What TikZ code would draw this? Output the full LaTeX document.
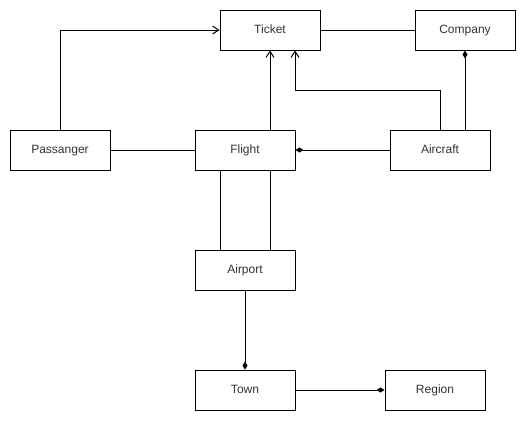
\documentclass[tikz,border=0pt]{standalone}
\usepackage{fontspec}
\setmainfont{Liberation Sans}
\usetikzlibrary{arrows.meta}
\begin{document}
\begin{tikzpicture}[x=1pt,y=-1pt,
  cls/.style={draw,line width=1pt,minimum width=100pt,minimum height=40pt,inner sep=0pt,text height=8.6pt,text depth=2.6pt,font=\fontsize{12}{14}\selectfont,text=black!80},
  conn/.style={line width=1pt},
  opena/.style={-{Straight Barb[length=6pt,width=8pt,line width=1pt]}},
  dia/.style={-{Diamond[length=8pt,width=5pt]}}]
\useasboundingbox (0,0) rectangle (526,421);
\fill[white] (0,0) rectangle (526,421);
\node[cls] (ticket) at (270,30) {Ticket};
\node[cls] (company) at (465,30) {Company};
\node[cls] (pass) at (60,150) {Passanger};
\node[cls] (flight) at (245,150) {Flight};
\node[cls] (aircraft) at (440,150) {Aircraft};
\node[cls] (airport) at (245,270) {Airport};
\node[cls] (town) at (245,390) {Town};
\node[cls] (region) at (435,390) {Region};
\draw[conn,opena] (pass.north) |- (ticket.west);
\draw[conn] (ticket.east) -- (company.west);
\draw[conn,opena] ([xshift=25pt]flight.north) -- ([xshift=25pt]flight.north |- ticket.south);
\coordinate (bend) at (440,90);
\draw[conn,opena] (aircraft.north) -- (bend) -| ([xshift=25pt]ticket.south);
\draw[conn,dia] ([xshift=25pt]aircraft.north) -- ([xshift=25pt]aircraft.north |- company.south);
\draw[conn] (pass.east) -- (flight.west);
\draw[conn,dia] (aircraft.west) -- (flight.east);
\draw[conn] ([xshift=-25pt]flight.south) -- ([xshift=-25pt]airport.north);
\draw[conn] ([xshift=25pt]flight.south) -- ([xshift=25pt]airport.north);
\draw[conn,dia] (airport.south) -- (town.north);
\draw[conn,dia] (town.east) -- (region.west);
\end{tikzpicture}
\end{document}
